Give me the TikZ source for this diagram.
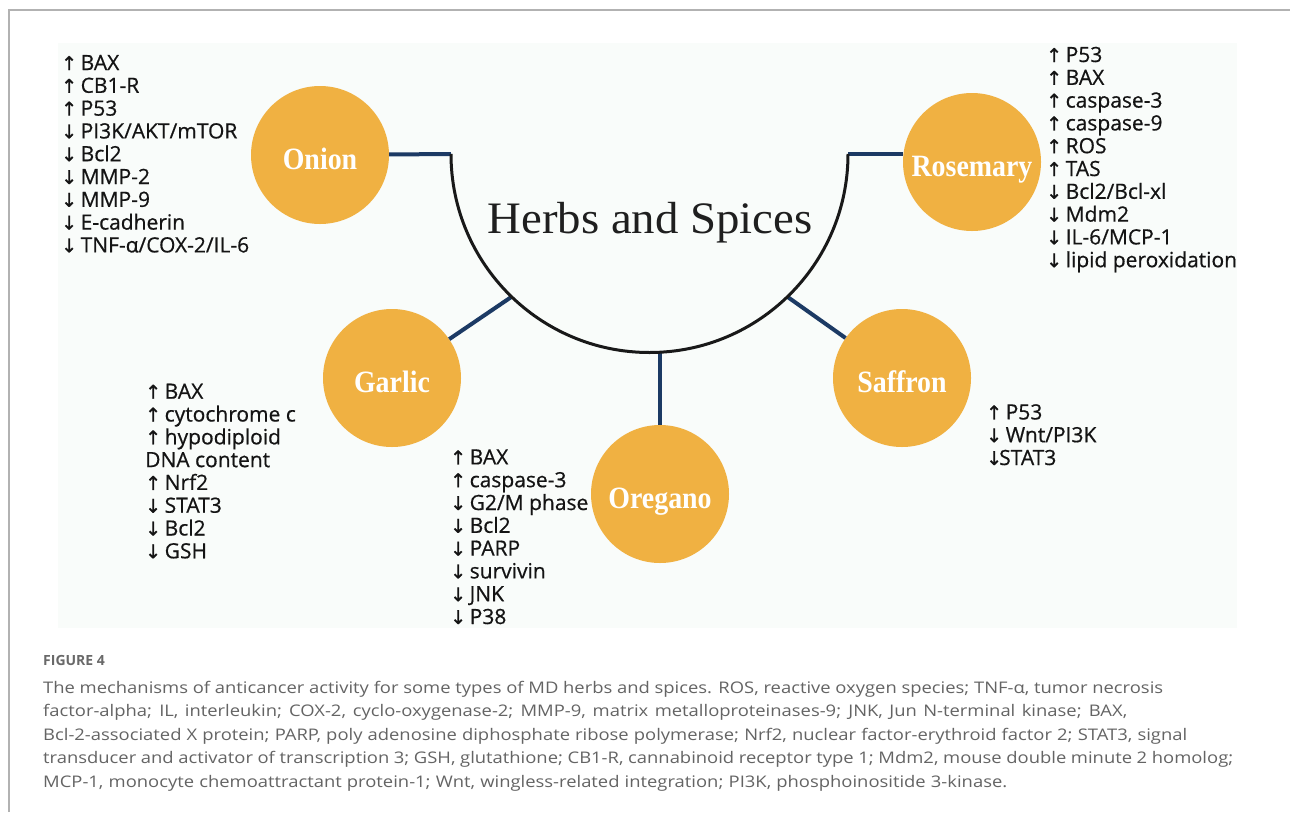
\documentclass[tikz,border=0pt]{standalone}
\usepackage{fontspec}
\usepackage{graphicx}
\usetikzlibrary{calc}
\setmainfont{Liberation Serif}
\newfontfamily\listfont{Open Sans}[FakeBold=0.6]
\newfontfamily\arrowfont{DejaVu Sans}[FakeBold=1]
\newfontfamily\capfont{Open Sans}[FakeStretch=1.15]
\newfontfamily\figfont{Open Sans}
\newfontfamily\herbfont{Liberation Serif}[FakeStretch=0.9]
\newfontfamily\titlefont{Liberation Serif}[FakeStretch=1.04]
\definecolor{herbfill}{RGB}{240,177,66}
\definecolor{connblue}{RGB}{28,58,100}
\definecolor{panelbg}{RGB}{249,252,250}
\definecolor{framegray}{RGB}{178,178,178}
\definecolor{capgray}{RGB}{100,100,100}
\definecolor{figgray}{RGB}{105,105,105}
\newcommand\UpA{\makebox[19.5pt][l]{\arrowfont\fontsize{19}{19}\selectfont ↑}}
\newcommand\DnA{\makebox[19.5pt][l]{\arrowfont\fontsize{19}{19}\selectfont ↓}}
\newcommand\DnTight{\makebox[13pt][l]{\arrowfont\fontsize{19}{19}\selectfont ↓}}
\newcommand\capline[2]{\makebox[#1pt][s]{#2}}
\tikzset{
  herb/.style={circle, fill=herbfill, draw=none, minimum size=138pt, inner sep=0pt,
    text=white, font=\herbfont\bfseries\fontsize{31}{31}\selectfont,
    text height=30pt, text depth=2pt},
  conn/.style={draw=connblue, line width=4pt},
  arcline/.style={draw=black!90, line width=3pt},
  effects/.style={anchor=base west, align=left, inner sep=0pt, text=black!92,
    font=\listfont\fontsize{21}{22.8}\selectfont},
  captext/.style={anchor=base west, align=left, inner sep=0pt, text=capgray,
    font=\capfont\fontsize{16}{23.5}\selectfont},
}
\begin{document}
\begin{tikzpicture}[x=1pt,y=1pt]
\useasboundingbox (0,0) rectangle (1290,-812);
\fill[white] (0,0) rectangle (1290,-812);
\draw[framegray, line width=1.3pt] (9,-812) -- (9,-10) -- (1290,-10);
\fill[panelbg] (58,-43) rectangle (1237,-628);

% arc geometry
\coordinate (ac) at (649.5,-154);
\coordinate (arcL) at (451,-154);
\coordinate (arcR) at (848,-154);
\coordinate (jG) at ([shift={(226:198.5)}]ac);
\coordinate (jS) at ([shift={(314:198.5)}]ac);
\coordinate (jO) at (660,-352.2);

% herbs
\node[herb] (onion) at (320,-155) {Onion};
\node[herb] (rosemary) at (972,-162) {Rosemary};
\node[herb] (garlic) at (392,-378) {Garlic};
\node[herb] (oregano) at (660,-494) {Oregano};
\node[herb] (saffron) at (902,-378) {Saffron};

% connectors
\draw[conn] (onion) -- (arcL);
\draw[conn] (arcR) -- (arcR -| rosemary.west);
\draw[conn] (jG) -- (garlic);
\draw[conn] (jS) -- (saffron);
\draw[conn] (jO) -- (oregano);
\draw[arcline] (arcL) arc[start angle=180, end angle=360, radius=198.5];

\node[anchor=base, inner sep=0pt, text=black!88, font=\titlefont\fontsize{45}{45}\selectfont] (title) at (650,-233) {Herbs and Spices};

% effect lists (anchor = baseline of the last line)
\node[effects] (onionfx) at (61,-252.4) {\UpA BAX\\ \UpA CB1-R\\ \UpA P53\\ \DnA PI3K/AKT/mTOR\\ \DnA Bcl2\\ \DnA MMP-2\\ \DnA MMP-9\\ \DnA E-cadherin\\ \DnA TNF-α/COX-2/IL-6};
\node[effects] (rosemaryfx) at (1046,-267.2) {\UpA P53\\ \UpA BAX\\ \UpA caspase-3\\ \UpA caspase-9\\ \UpA ROS\\ \UpA TAS\\ \DnA Bcl2/Bcl-xl\\ \DnA Mdm2\\ \DnA IL-6/MCP-1\\ \DnA lipid peroxidation};
\node[effects] (garlicfx) at (145,-558.3) {\UpA BAX\\ \UpA cytochrome c\\ \UpA hypodiploid\\ DNA content\\ \UpA Nrf2\\ \DnA STAT3\\ \DnA Bcl2\\ \DnA GSH};
\node[effects] (oreganofx) at (450,-624) {\UpA BAX\\ \UpA caspase-3\\ \DnA G2/M phase\\ \DnA Bcl2\\ \DnA PARP\\ \DnA survivin\\ \DnA JNK\\ \DnA P38};
\node[effects] (saffronfx) at (986,-465) {\UpA P53\\ \DnA Wnt/PI3K\\ \DnTight STAT3};

% caption
\node[anchor=base west, inner sep=0pt, text=figgray, font=\figfont\bfseries\fontsize{14}{14}\selectfont] (fig) at (43,-665) {FIGURE 4};
\node[captext] (cap) at (43,-787) {\capline{1120}{The mechanisms of anticancer activity for some types of MD herbs and spices. ROS, reactive oxygen species; TNF-α, tumor necrosis}\\
\capline{1084}{factor-alpha; IL, interleukin; COX-2, cyclo-oxygenase-2; MMP-9, matrix metalloproteinases-9; JNK, Jun N-terminal kinase; BAX,}\\
\capline{1144}{Bcl-2-associated X protein; PARP, poly adenosine diphosphate ribose polymerase; Nrf2, nuclear factor-erythroid factor 2; STAT3, signal}\\
\capline{1190}{transducer and activator of transcription 3; GSH, glutathione; CB1-R, cannabinoid receptor type 1; Mdm2, mouse double minute 2 homolog;}\\
\capline{964}{MCP-1, monocyte chemoattractant protein-1; Wnt, wingless-related integration; PI3K, phosphoinositide 3-kinase.}};
\end{tikzpicture}
\end{document}
